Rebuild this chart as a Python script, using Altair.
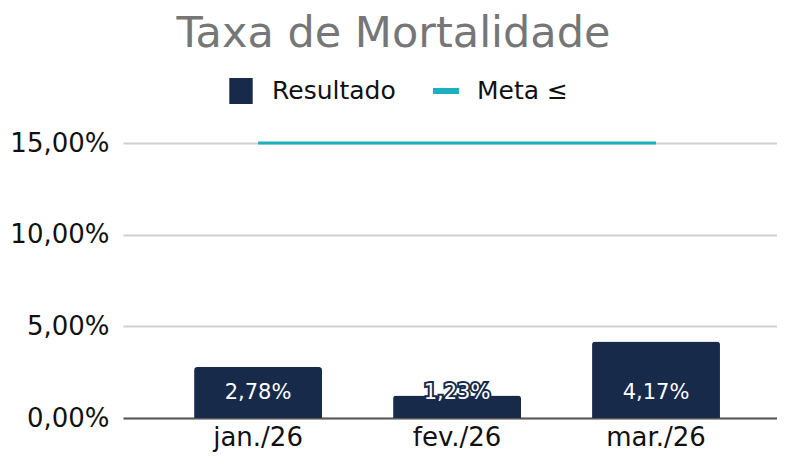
import altair as alt
import pandas as pd

months = ["jan./26", "fev./26", "mar./26"]
resultado = [0.0278, 0.0123, 0.0417]
meta = [0.15, 0.15, 0.15]

NAVY = "#172a4a"
TEAL = "#1ab0bd"
FONT = "DejaVu Sans"

df = pd.DataFrame({"mes": months, "Resultado": resultado, "Meta": meta,
                   "s1": "Resultado", "s2": "Meta ≤"})

x = alt.X("mes:N", sort=months, title=None,
          scale=alt.Scale(paddingInner=0.357, paddingOuter=0.322, align=0.555),
          axis=alt.Axis(labelAngle=0, labelFontSize=26, labelColor="#111111", labelFont=FONT,
                        labelPadding=6, ticks=False, domainColor="#595959", domainWidth=2))
y_axis = alt.Axis(values=[0, 0.05, 0.10, 0.15], labelExpr="replace(format(datum.value, '.2%'), '.', ',')",
                  labelFontSize=26, labelColor="#111111", labelFont=FONT, labelPadding=14,
                  ticks=False, domain=False, gridColor="#d0d0d0", gridWidth=2, title=None)
yscale = alt.Scale(domain=[0, 0.15], nice=False)

base = alt.Chart(df)

bars = base.mark_bar(cornerRadiusTopLeft=3, cornerRadiusTopRight=3).encode(
    x=x,
    y=alt.Y("Resultado:Q", scale=yscale, axis=y_axis),
    color=alt.Color("s1:N", scale=alt.Scale(domain=["Resultado"], range=[NAVY]),
                    legend=alt.Legend(title=None, orient="none", legendX=105, legendY=-65,
                                      symbolType="M-0.9,-1H0.9V1H-0.9Z", symbolSize=676,
                                      symbolStrokeWidth=0, labelFontSize=25, labelFont=FONT,
                                      labelColor="#111111", labelOffset=18, padding=0)),
)

line = base.mark_line(strokeWidth=3).encode(
    x=x,
    y=alt.Y("Meta:Q", scale=yscale),
    stroke=alt.Stroke("s2:N", scale=alt.Scale(domain=["Meta ≤"], range=[TEAL]),
                      legend=alt.Legend(title=None, orient="none", legendX=310, legendY=-65,
                                        symbolType="M-1,-0.23H1V0.23H-1Z", symbolSize=676,
                                        symbolFillColor=TEAL, symbolStrokeWidth=0,
                                        labelFontSize=25, labelFont=FONT,
                                        labelColor="#111111", labelOffset=18, padding=0)),
)

label_calc = "replace(format(datum.Resultado, '.2%'), '.', ',')"
txt_outline = base.transform_calculate(lbl=label_calc).mark_text(
    fontSize=21, font=FONT, color=NAVY, stroke=NAVY, strokeWidth=4, baseline="middle", dy=-25
).encode(x=x, y=alt.datum(0, scale=yscale), text="lbl:N")
txt = base.transform_calculate(lbl=label_calc).mark_text(
    fontSize=21, font=FONT, color="white", baseline="middle", dy=-25
).encode(x=x, y=alt.datum(0, scale=yscale), text="lbl:N")

chart = alt.layer(bars, line, txt_outline, txt).resolve_scale(color="independent").properties(
    width=654, height=275,
    title=alt.TitleParams("Taxa de Mortalidade", fontSize=43, font=FONT, fontWeight="normal",
                          color="#767676", anchor="middle", frame="bounds", offset=22),
    autosize=alt.AutoSizeParams(type="none"),
    padding={"left": 115, "top": 135, "right": 0, "bottom": 37},
).configure_view(stroke=None)

chart.save("out.html", embed_options={"renderer": "svg", "actions": False})
